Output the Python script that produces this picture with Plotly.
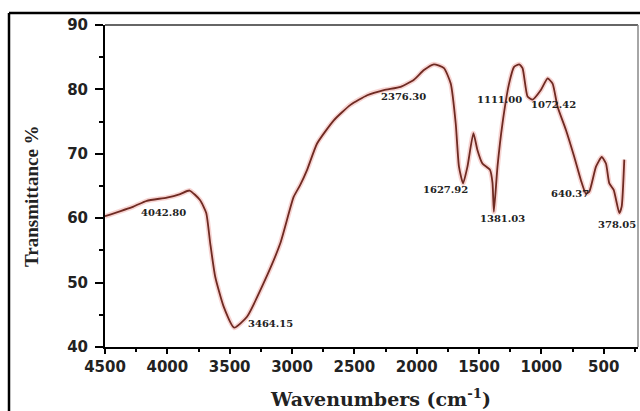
import plotly.graph_objects as go

wavenumber = [4500, 4272, 4165, 4004, 3897, 3822, 3737, 3688, 3656, 3616, 3549, 3464,
              3361, 3228, 3094, 2987, 2933, 2879, 2799, 2665, 2531, 2397, 2263, 2129,
              2022, 1942, 1862, 1781, 1727, 1687, 1661, 1628, 1593, 1545, 1513, 1473,
              1412, 1392, 1381, 1352, 1312, 1259, 1219, 1178, 1151, 1111, 1071, 1004,
              950, 910, 870, 803, 736, 683, 643, 616, 562, 516, 482, 455, 420, 375,
              356, 335]
transmittance = [60.3, 61.8, 62.7, 63.2, 63.75, 64.3, 62.8, 60.8, 56.1, 50.9, 46.3, 43.0,
                 44.7, 49.9, 56.1, 63.3, 65.2, 67.5, 71.6, 75.2, 77.6, 79.1, 79.9, 80.4,
                 81.5, 83.0, 83.9, 83.3, 80.9, 74.7, 68.0, 65.4, 68.0, 73.2, 70.6, 68.5,
                 67.5, 65.5, 61.0, 68.0, 74.7, 80.9, 83.5, 83.9, 83.3, 78.9, 78.4, 79.9,
                 81.7, 80.9, 77.3, 73.7, 69.5, 65.9, 63.8, 64.1, 68.0, 69.5, 68.5, 65.4,
                 64.4, 60.8, 61.8, 69.1]

peak_labels = ["4042.80", "3464.15", "2376.30", "1627.92", "1381.03", "1111.00",
               "1072.42", "640.37", "378.05"]
label_x = [4034, 3174, 2105, 1768, 1312, 1334, 905, 771, 396]
label_y = [60.95, 43.7, 78.9, 64.4, 60.0, 78.5, 77.6, 63.9, 59.1]

x_title = "Wavenumbers (cm<sup>-1</sup>)"
y_title = "Transmittance %"

fig = go.Figure()
# soft red glow under the line
fig.add_trace(go.Scatter(x=wavenumber, y=transmittance, mode="lines",
                         line=dict(color="rgba(220,60,50,0.22)", width=5, shape="spline", smoothing=0.5),
                         hoverinfo="skip", showlegend=False))
fig.add_trace(go.Scatter(x=wavenumber, y=transmittance, mode="lines",
                         line=dict(color="#6e2a22", width=1.8, shape="spline", smoothing=0.5),
                         showlegend=False))

for t, x, y in zip(peak_labels, label_x, label_y):
    fig.add_annotation(x=x, y=y, text=t, showarrow=False,
                       font=dict(family="DejaVu Serif", size=10, color="#222", weight="bold"))

W, H = 640, 411
L, R, T, B = 105, 2, 25, 64
pw, ph = W - L - R, H - T - B

def px(xp):
    return (xp - L) / pw

def py(yp):
    return (H - B - yp) / ph

fig.add_annotation(xref="paper", yref="paper", x=px(380), y=py(398), text=x_title,
                   showarrow=False, xanchor="center", yanchor="middle",
                   font=dict(family="DejaVu Serif", size=19, color="#222", weight="bold"))
fig.add_annotation(xref="paper", yref="paper", x=px(32), y=py(196), text=y_title,
                   showarrow=False, xanchor="center", yanchor="middle", textangle=-90,
                   font=dict(family="Liberation Serif", size=19, color="#222", weight="bold"))

# outer figure border (top and left)
fig.add_shape(type="line", xref="paper", yref="paper", x0=px(9), x1=px(641), y0=py(13), y1=py(13),
              line=dict(color="black", width=2.5))
fig.add_shape(type="line", xref="paper", yref="paper", x0=px(9), x1=px(9), y0=py(13), y1=py(412),
              line=dict(color="black", width=2.5))
# top and right frame (gray)
fig.add_shape(type="line", xref="paper", yref="paper", x0=0, x1=1, y0=1, y1=1,
              line=dict(color="#666", width=2))
fig.add_shape(type="line", xref="paper", yref="paper", x0=1, x1=1, y0=0, y1=1,
              line=dict(color="#888", width=1.5))

fig.update_layout(
    width=W, height=H,
    margin=dict(l=L, r=R, t=T, b=B),
    paper_bgcolor="white", plot_bgcolor="white",
    xaxis=dict(range=[4500, 225], tick0=0, dtick=500, ticks="outside", ticklen=5,
               tickwidth=1.5, tickcolor="black", showline=True, linecolor="black", linewidth=2,
               showgrid=False, zeroline=False,
               minor=dict(dtick=250, tick0=0, ticks="outside", ticklen=3, tickcolor="black"),
               tickfont=dict(family="DejaVu Sans", size=15, color="#222", weight="bold")),
    yaxis=dict(range=[40, 90], dtick=10, ticks="outside", ticklen=8, tickwidth=1.5,
               tickcolor="black", showline=True, linecolor="black", linewidth=2,
               showgrid=False, zeroline=False, ticklabelstandoff=4,
               minor=dict(dtick=5, ticks="outside", ticklen=4, tickcolor="black"),
               tickfont=dict(family="DejaVu Sans", size=15, color="#222", weight="bold")),
)

fig.write_html("out.html", config={"displayModeBar": False},
               post_script="document.body.style.margin='0';document.body.style.overflow='hidden';")
